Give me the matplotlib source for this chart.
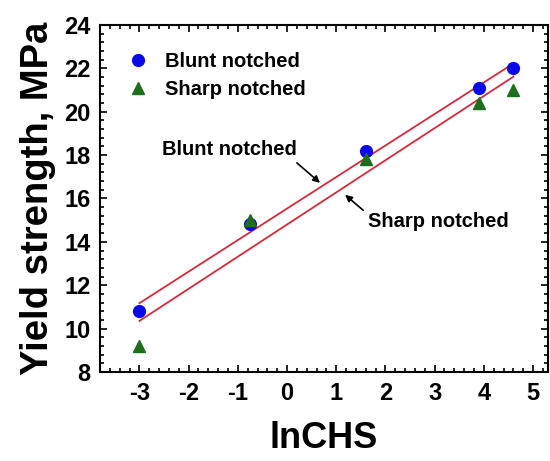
import numpy as np
import matplotlib
matplotlib.use("Agg")
from matplotlib import pyplot as plt
from matplotlib.ticker import AutoMinorLocator

# data
lnchs = [-3.0, -0.75, 1.6, 3.9, 4.6]
blunt = [10.8, 14.8, 18.2, 21.1, 22.0]
sharp = [9.2, 15.0, 17.8, 20.4, 21.0]
xticks = [-3, -2, -1, 0, 1, 2, 3, 4, 5]
yticks = [8, 10, 12, 14, 16, 18, 20, 22, 24]

plt.rcParams['font.family'] = ['Liberation Sans', 'DejaVu Sans']
plt.rcParams['font.weight'] = 'bold'
plt.rcParams['axes.unicode_minus'] = False

fig = plt.figure(figsize=(5.5, 4.61), dpi=100)
ax = fig.add_axes([0.182, 0.193, 0.814, 0.753])

# linear fits
xs = np.array([min(lnchs), max(lnchs)])
pb = np.polyfit(lnchs, blunt, 1)
ps = np.polyfit(lnchs, sharp, 1)
ax.plot(xs, np.polyval(pb, xs), color="#d42a3c", lw=1.3, zorder=2)
ax.plot(xs, np.polyval(ps, xs), color="#d42a3c", lw=1.3, zorder=2)

ax.plot(lnchs, blunt, "o", color="#0a0ae6", ms=8.5, label="Blunt notched", zorder=3)
ax.plot(lnchs, sharp, "^", color="#1d6e1d", ms=8.5, label="Sharp notched", zorder=3)

arrow = dict(arrowstyle="-|>", color="black", lw=1.2, shrinkA=0, shrinkB=0,
             mutation_scale=10)
ax.text(-2.54, 18.24, "Blunt notched", fontsize=14.5, fontweight="bold",
        va="center", ha="left")
ax.annotate("", xy=(0.67, 16.72), xytext=(0.2, 17.64), arrowprops=arrow)
ax.text(1.64, 14.92, "Sharp notched", fontsize=14.5, fontweight="bold",
        va="center", ha="left")
ax.annotate("", xy=(1.18, 16.17), xytext=(1.55, 15.45), arrowprops=arrow)

ax.set_xlim(-3.8, 5.3)
ax.set_ylim(8, 24)
ax.set_xticks(xticks)
ax.set_yticks(yticks)
ax.xaxis.set_minor_locator(AutoMinorLocator(5))
ax.yaxis.set_minor_locator(AutoMinorLocator(5))
ax.tick_params(which="both", direction="in", top=True, right=True, width=1.2)
ax.tick_params(which="major", length=5, labelsize=17, pad=7)
ax.tick_params(which="minor", length=3)
for s in ax.spines.values():
    s.set_linewidth(1.5)

ax.set_xlabel("lnCHS", fontsize=26, fontweight="bold", labelpad=12)
ax.set_ylabel("Yield strength, MPa", fontsize=27.5, fontweight="bold", labelpad=6)

ax.legend(loc="upper left", bbox_to_anchor=(0.0, 0.975), frameon=False,
          fontsize=14.5, handletextpad=0.3, borderaxespad=0.5, labelspacing=0.45)

fig.savefig("out.png", dpi=100)
